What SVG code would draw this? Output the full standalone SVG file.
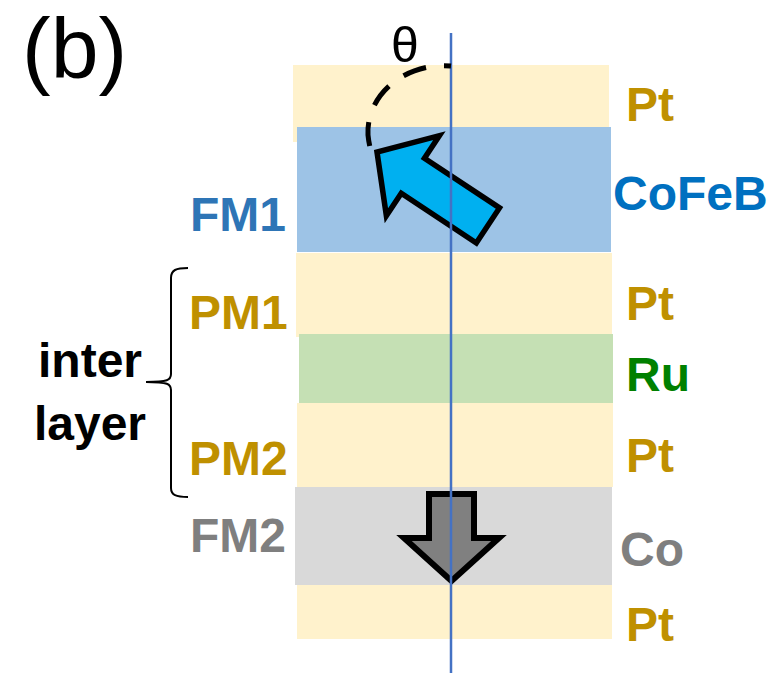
<svg xmlns="http://www.w3.org/2000/svg" width="774" height="673" viewBox="0 0 774 673">
<style>
.lbl{font-family:"Liberation Sans",Arial,sans-serif;font-weight:bold;font-size:48px}
.pt{fill:#BF9000}
.gray{fill:#7F7F7F}
</style>
<rect width="774" height="673" fill="#FFFFFF"/>
<g id="layers">
<rect id="pt-top" x="293" y="65" width="316" height="77" fill="#FFF2CC"/>
<rect id="cofeb" x="297" y="127" width="314" height="125" fill="#9DC3E6"/>
<rect id="pt-pm1" x="296" y="253" width="316" height="84" fill="#FFF2CC"/>
<rect id="ru" x="299" y="334" width="314" height="69" fill="#C5E0B4"/>
<rect id="pt-pm2" x="297" y="403" width="316" height="84" fill="#FFF2CC"/>
<rect id="co" x="295" y="487" width="317" height="98" fill="#D9D9D9"/>
<rect id="pt-bot" x="297" y="585" width="315" height="54" fill="#FFF2CC"/>
</g>
<g id="arrow-fm2">
<polygon points="429,494 474,494 474,538 499,538 451.5,581 404,538 429,538" fill="#808080" stroke="#000" stroke-width="6" stroke-linejoin="miter"/>
</g>
<g id="arrow-fm1">
<polygon transform="translate(377,152) rotate(213.5)" points="0,0 -43,-48 -43,-21 -133,-21 -133,21 -43,21 -43,48" fill="#00B0F0" stroke="#000" stroke-width="5.5" stroke-linejoin="miter"/>
</g>
<g id="connectors">
<line x1="451" y1="33" x2="451" y2="673" stroke="#4472C4" stroke-width="2.5"/>
<path d="M451,66 C405,62 366,95 368,135 C369,145 371,152 374,160" fill="none" stroke="#000" stroke-width="5" stroke-dasharray="24 18" stroke-dashoffset="17"/>
<path d="M188,268 C176,268 171,270 171,278 L171,374 C171,380 168,382 146,382 C168,382 171,384 171,390 L171,488 C171,495 176,497 188,497" fill="none" stroke="#000" stroke-width="2"/>
</g>
<g id="labels">
<text x="22" y="78" font-family="'Liberation Sans',Arial,sans-serif" font-size="86">(b)</text>
<text x="391" y="62" font-family="'Liberation Sans',Arial,sans-serif" font-size="50">θ</text>
<text class="lbl pt" x="626" y="121">Pt</text>
<text class="lbl" x="613" y="210" fill="#0070C0">CoFeB</text>
<text class="lbl pt" x="626" y="320">Pt</text>
<text class="lbl" x="626" y="391" fill="#008000">Ru</text>
<text class="lbl pt" x="626" y="472">Pt</text>
<text class="lbl gray" x="620" y="566">Co</text>
<text class="lbl pt" x="626" y="641">Pt</text>
<text class="lbl" x="190" y="231" fill="#2E75B6">FM1</text>
<text class="lbl pt" x="189" y="329">PM1</text>
<text class="lbl pt" x="189" y="475">PM2</text>
<text class="lbl gray" x="190" y="552">FM2</text>
<text class="lbl" x="90" y="377" text-anchor="middle" font-size="52" fill="#000">inter</text>
<text class="lbl" x="90" y="440" text-anchor="middle" font-size="52" fill="#000">layer</text>
</g>
</svg>
